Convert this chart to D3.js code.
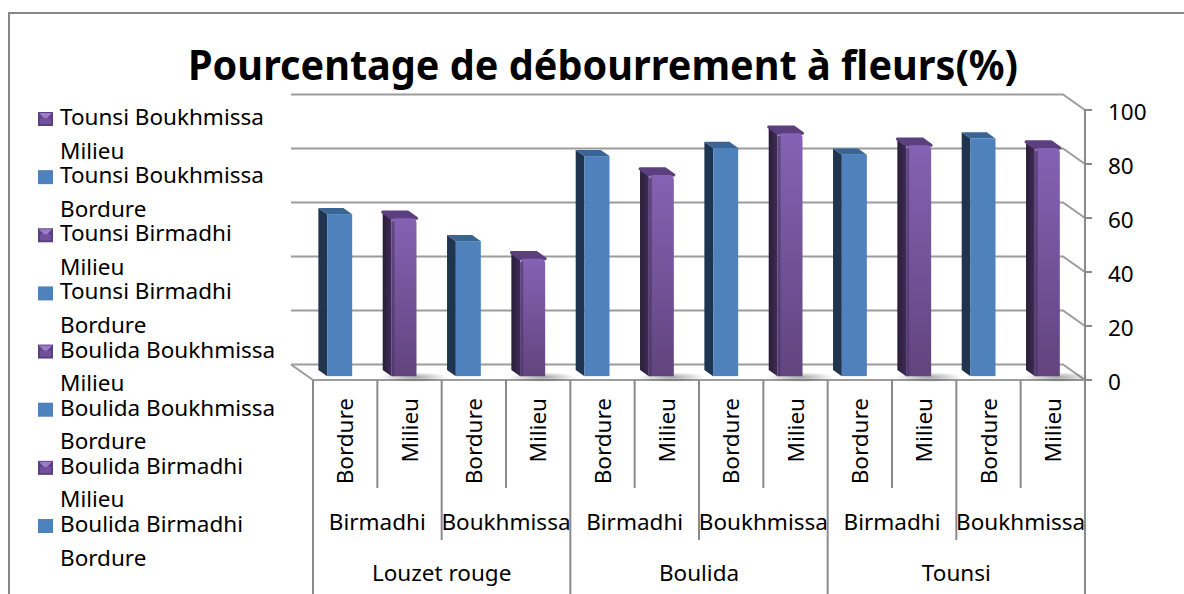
<!DOCTYPE html>
<html>
<head>
<meta charset="utf-8">
<script src="https://cdn.jsdelivr.net/npm/d3@7"></script>
<style>
  html, body { margin: 0; padding: 0; background: #fff; }
  svg { display: block; font-family: "Noto Sans", "Open Sans", sans-serif; }
</style>
</head>
<body>
<svg id="chart" width="1184" height="594"></svg>
<script>
// Chart data: three varieties x two sites x two positions
const title = "Pourcentage de débourrement à fleurs(%)";
const varieties = ["Louzet rouge", "Boulida", "Tounsi"];
const sites = ["Birmadhi", "Boukhmissa"];
const positions = ["Bordure", "Milieu"];
const values = [60, 58.5, 50, 43.5, 81.5, 74.5, 84.5, 90, 82, 85.5, 88, 84.5];
const yTicks = [0, 20, 40, 60, 80, 100];
const legendItems = [
  ["Tounsi Boukhmissa", "Milieu"],
  ["Tounsi Boukhmissa", "Bordure"],
  ["Tounsi Birmadhi", "Milieu"],
  ["Tounsi Birmadhi", "Bordure"],
  ["Boulida Boukhmissa", "Milieu"],
  ["Boulida Boukhmissa", "Bordure"],
  ["Boulida Birmadhi", "Milieu"],
  ["Boulida Birmadhi", "Bordure"]
];

// flatten categories
const cats = [];
varieties.forEach(v => sites.forEach(s => positions.forEach(p => {
  cats.push({ variety: v, site: s, pos: p, value: values[cats.length] });
})));

const svg = d3.select("#chart");
const GRID = "#9c9c9c";
const AXIS = "#8a8a8a";
const FS = 22.5; // label font size

// front plane scales, back wall is offset by (depthX, depthY)
const x = d3.scaleBand().domain(d3.range(cats.length)).range([313, 1085]);
const y = d3.scaleLinear().domain([0, 100]).range([380, 110]);
const depthX = -22, depthY = -15.5;

// outer frame
svg.append("path")
  .attr("d", "M9,600 L9,13 L1190,13")
  .attr("fill", "none").attr("stroke", "#878787").attr("stroke-width", 2);

// title
const t = svg.append("text")
  .attr("x", 603).attr("y", 80)
  .attr("text-anchor", "middle")
  .attr("font-size", 42).attr("font-weight", "bold")
  .attr("fill", "#000")
  .text(title);
if (t.node().getComputedTextLength() > 830) {
  t.attr("textLength", 830).attr("lengthAdjust", "spacingAndGlyphs");
}

// defs: gradients
const defs = svg.append("defs");
const gP = defs.append("linearGradient").attr("id", "purpleFront")
  .attr("x1", 0).attr("y1", 0).attr("x2", 0).attr("y2", 1);
gP.append("stop").attr("offset", "0%").attr("stop-color", "#8562b3");
gP.append("stop").attr("offset", "100%").attr("stop-color", "#62447e");
const gPs = defs.append("linearGradient").attr("id", "purpleSide")
  .attr("x1", 0).attr("y1", 0).attr("x2", 1).attr("y2", 0);
gPs.append("stop").attr("offset", "0%").attr("stop-color", "#2a1d38");
gPs.append("stop").attr("offset", "100%").attr("stop-color", "#3f2b57");
const sh = defs.append("radialGradient").attr("id", "shadow");
sh.append("stop").attr("offset", "0%").attr("stop-color", "#000").attr("stop-opacity", 0.35);
sh.append("stop").attr("offset", "100%").attr("stop-color", "#000").attr("stop-opacity", 0);

// back wall gridlines + right diagonals
const x0 = x.range()[0], x1 = x.range()[1];
const grid = svg.append("g");
yTicks.forEach(v => {
  const yb = y(v) + depthY;
  grid.append("path")
    .attr("d", `M${x0 + depthX},${yb} L${x1 + depthX},${yb} L${x1},${y(v)}`)
    .attr("fill", "none").attr("stroke", GRID).attr("stroke-width", 2);
});
// floor left edge + front edge
grid.append("path")
  .attr("d", `M${x0 + depthX},${y(0) + depthY} L${x0},${y(0)} L${x1},${y(0)}`)
  .attr("fill", "none").attr("stroke", GRID).attr("stroke-width", 2);

// value axis on the right
const yAxis = svg.append("g");
yAxis.append("line")
  .attr("x1", x1).attr("x2", x1).attr("y1", y(100) - 1).attr("y2", y(0) + 1)
  .attr("stroke", AXIS).attr("stroke-width", 2);
yTicks.forEach(v => {
  yAxis.append("line")
    .attr("x1", x1).attr("x2", x1 + 7).attr("y1", y(v)).attr("y2", y(v))
    .attr("stroke", AXIS).attr("stroke-width", 2);
  yAxis.append("text")
    .attr("x", 1108).attr("y", y(v) + 10)
    .attr("font-size", FS).attr("fill", "#000")
    .text(v);
});

// bars: front face at depth fraction fF, back at fB
const fF = 0.25, fB = 0.65;
const barW = 25;
const bars = svg.append("g");
cats.forEach((c, i) => {
  const cx = x(i) + x.bandwidth() / 2 + depthX * fF;
  const bx = cx - barW / 2;
  const by0 = y(0) + depthY * fF;
  const by1 = y(c.value) + depthY * fF;
  const ddx = depthX * (fB - fF), ddy = depthY * (fB - fF);
  const purple = c.pos === "Milieu";

  if (purple) {
    bars.append("ellipse")
      .attr("cx", bx + barW / 2 + 10).attr("cy", by0 + 1)
      .attr("rx", 34).attr("ry", 5)
      .attr("fill", "url(#shadow)");
  }
  // left side face
  bars.append("path")
    .attr("d", `M${bx},${by0} L${bx},${by1} L${bx + ddx},${by1 + ddy} L${bx + ddx},${by0 + ddy} Z`)
    .attr("fill", purple ? "url(#purpleSide)" : "#1f354f");
  // top face
  bars.append("path")
    .attr("d", `M${bx},${by1} L${bx + barW},${by1} L${bx + barW + ddx},${by1 + ddy} L${bx + ddx},${by1 + ddy} Z`)
    .attr("fill", purple ? "#5b3f7e" : "#3a6494")
    .attr("stroke", purple ? "#5b3f7e" : "none")
    .attr("stroke-width", purple ? 3 : 0)
    .attr("stroke-linejoin", "round");
  // front face
  if (purple) {
    const r = 5;
    bars.append("path")
      .attr("d", `M${bx},${by0} L${bx},${by1 + r} Q${bx},${by1} ${bx + r},${by1} L${bx + barW - r},${by1} Q${bx + barW},${by1} ${bx + barW},${by1 + r} L${bx + barW},${by0} Z`)
      .attr("fill", "url(#purpleFront)");
    bars.append("rect")
      .attr("x", bx).attr("y", by1 + 3).attr("width", 3).attr("height", by0 - by1 - 3)
      .attr("fill", "#4a3466").attr("opacity", 0.6);
  } else {
    bars.append("rect")
      .attr("x", bx).attr("y", by1).attr("width", barW).attr("height", by0 - by1)
      .attr("fill", "#4f81bd");
  }
});

// category axis (three levels)
const cax = svg.append("g");
const yAx = y(0);
d3.range(cats.length + 1).forEach(i => {
  const xx = i < cats.length ? x(i) : x1;
  let bottom = 488;
  if (i % 4 === 0) bottom = 600;
  else if (i % 2 === 0) bottom = 540;
  cax.append("line")
    .attr("x1", xx).attr("x2", xx).attr("y1", yAx).attr("y2", bottom)
    .attr("stroke", AXIS).attr("stroke-width", 2);
});
cats.forEach((c, i) => {
  const cx = x(i) + x.bandwidth() / 2;
  cax.append("text")
    .attr("transform", `translate(${cx + 8},398) rotate(-90)`)
    .attr("text-anchor", "end")
    .attr("font-size", FS).attr("fill", "#000")
    .text(c.pos);
});
varieties.forEach((v, vi) => {
  sites.forEach((s, si) => {
    const i = vi * 4 + si * 2;
    const cx = x(i) + x.bandwidth();
    cax.append("text")
      .attr("x", cx).attr("y", 530)
      .attr("text-anchor", "middle")
      .attr("font-size", FS).attr("fill", "#000")
      .text(s);
  });
  const cx = x(vi * 4) + 2 * x.bandwidth();
  cax.append("text")
    .attr("x", cx).attr("y", 581)
    .attr("text-anchor", "middle")
    .attr("font-size", FS).attr("fill", "#000")
    .text(v);
});

// legend
const ly = d3.scaleLinear().domain([0, legendItems.length - 1]).range([125, 532]);
const legend = svg.append("g");
legendItems.forEach((d, i) => {
  const base = ly(i);
  const g = legend.append("g");
  if (d[1] === "Milieu") {
    g.append("rect").attr("x", 38).attr("y", base - 13).attr("width", 15).attr("height", 14)
      .attr("fill", "#5b3f7e");
    g.append("path")
      .attr("d", `M${39},${base - 12} L${52},${base - 12} L${45.5},${base - 5} Z`)
      .attr("fill", "#9b7cc9");
    g.append("rect").attr("x", 40).attr("y", base - 7).attr("width", 11).attr("height", 6)
      .attr("fill", "#70519a");
  } else {
    g.append("rect").attr("x", 38).attr("y", base - 13).attr("width", 15).attr("height", 14)
      .attr("fill", "#4f81bd");
  }
  g.append("text").attr("x", 60).attr("y", base)
    .attr("font-size", FS).attr("fill", "#000").text(d[0]);
  g.append("text").attr("x", 60).attr("y", base + 33.5)
    .attr("font-size", FS).attr("fill", "#000").text(d[1]);
});
</script>
</body>
</html>
